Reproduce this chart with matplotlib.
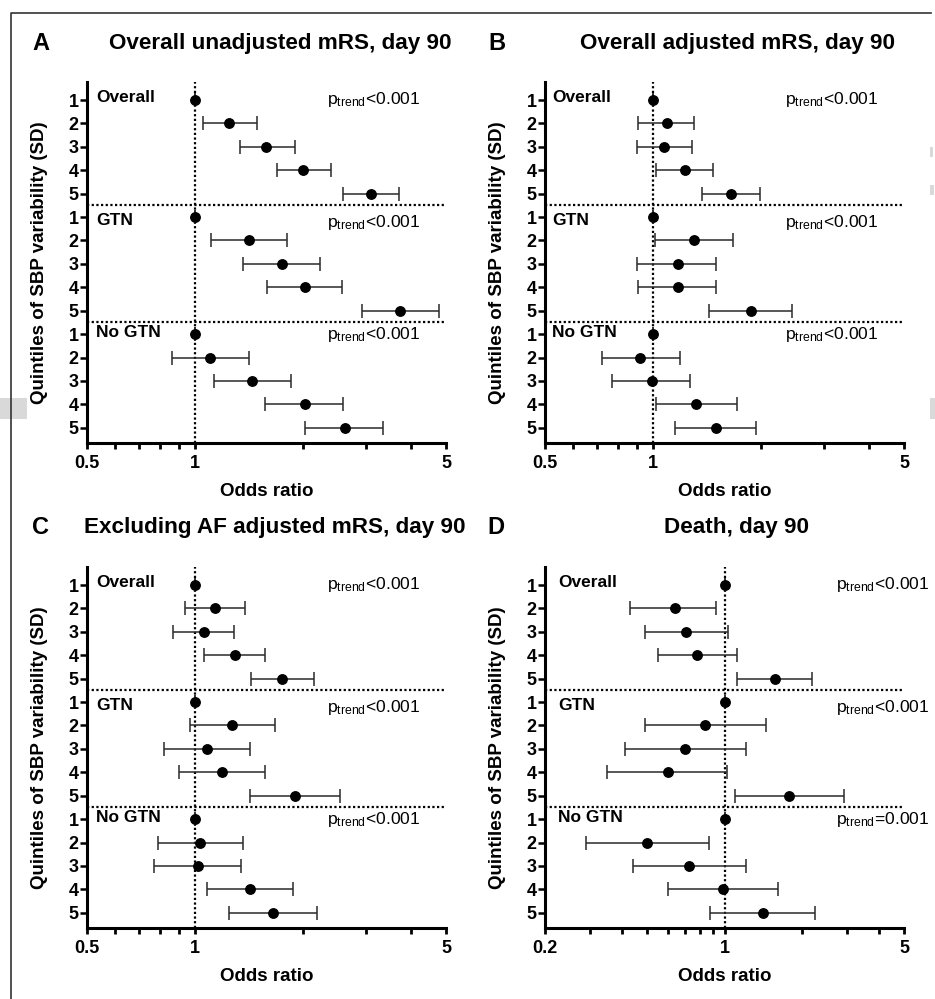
import matplotlib
matplotlib.use('Agg')
import matplotlib.pyplot as plt
import numpy as np
from matplotlib.patches import Rectangle
from matplotlib.lines import Line2D
from matplotlib.ticker import FixedLocator, NullFormatter, FixedFormatter
from matplotlib.transforms import blended_transform_factory

plt.rcParams['font.family'] = ['Liberation Sans', 'DejaVu Sans']
plt.rcParams['mathtext.fontset'] = 'custom'
plt.rcParams['mathtext.rm'] = 'Liberation Sans'
plt.rcParams['mathtext.it'] = 'Liberation Sans'
plt.rcParams['mathtext.default'] = 'regular'

# ---------------- data ----------------
groups = ['Overall', 'GTN', 'No GTN']
quintiles = ['1', '2', '3', '4', '5']

panel_letters = ['A', 'B', 'C', 'D']
panel_titles = ['Overall unadjusted mRS, day 90',
                'Overall adjusted mRS, day 90',
                'Excluding AF adjusted mRS, day 90',
                'Death, day 90']

# Panel A: overall unadjusted mRS
a_or = [1.00, 1.24, 1.58, 2.00, 3.09, 1.00, 1.41, 1.75, 2.02, 3.73, 1.00, 1.10, 1.44, 2.02, 2.61]
a_lo = [1.00, 1.05, 1.33, 1.69, 2.59, 1.00, 1.11, 1.36, 1.59, 2.91, 1.00, 0.86, 1.13, 1.57, 2.03]
a_hi = [1.00, 1.49, 1.90, 2.39, 3.69, 1.00, 1.80, 2.23, 2.57, 4.79, 1.00, 1.41, 1.85, 2.58, 3.33]
a_p = ['<0.001', '<0.001', '<0.001']

# Panel B: overall adjusted mRS
b_or = [1.00, 1.09, 1.07, 1.23, 1.65, 1.00, 1.30, 1.17, 1.17, 1.87, 1.00, 0.92, 0.99, 1.32, 1.50]
b_lo = [1.00, 0.91, 0.90, 1.02, 1.37, 1.00, 1.01, 0.90, 0.91, 1.43, 1.00, 0.72, 0.77, 1.02, 1.15]
b_hi = [1.00, 1.30, 1.28, 1.47, 1.99, 1.00, 1.67, 1.50, 1.50, 2.44, 1.00, 1.19, 1.27, 1.71, 1.94]
b_p = ['<0.001', '<0.001', '<0.001']

# Panel C: excluding AF adjusted mRS
c_or = [1.00, 1.14, 1.06, 1.29, 1.75, 1.00, 1.27, 1.08, 1.19, 1.90, 1.00, 1.03, 1.02, 1.42, 1.65]
c_lo = [1.00, 0.94, 0.87, 1.06, 1.43, 1.00, 0.97, 0.82, 0.90, 1.42, 1.00, 0.79, 0.77, 1.08, 1.24]
c_hi = [1.00, 1.38, 1.28, 1.57, 2.15, 1.00, 1.67, 1.42, 1.57, 2.54, 1.00, 1.36, 1.34, 1.88, 2.19]
c_p = ['<0.001', '<0.001', '<0.001']

# Panel D: death
d_or = [1.00, 0.64, 0.71, 0.78, 1.57, 1.00, 0.84, 0.70, 0.60, 1.79, 1.00, 0.50, 0.73, 0.99, 1.41]
d_lo = [1.00, 0.43, 0.49, 0.55, 1.12, 1.00, 0.49, 0.41, 0.35, 1.10, 1.00, 0.29, 0.44, 0.60, 0.88]
d_hi = [1.00, 0.93, 1.03, 1.12, 2.19, 1.00, 1.45, 1.21, 1.02, 2.91, 1.00, 0.87, 1.21, 1.61, 2.25]
d_p = ['<0.001', '<0.001', '=0.001']

x_limits = [(0.5, 5), (0.5, 5), (0.5, 5), (0.2, 5)]
x_major = [[0.5, 1, 5], [0.5, 1, 5], [0.5, 1, 5], [0.2, 1, 5]]
x_major_labels = [['0.5', '1', '5'], ['0.5', '1', '5'], ['0.5', '1', '5'], ['0.2', '1', '5']]
x_minor = [[0.6, 0.7, 0.8, 0.9, 2, 3, 4]] * 3 + [[0.3, 0.4, 0.5, 0.6, 0.7, 0.8, 0.9, 2, 3, 4]]

panels = [(a_or, a_lo, a_hi, a_p), (b_or, b_lo, b_hi, b_p),
          (c_or, c_lo, c_hi, c_p), (d_or, d_lo, d_hi, d_p)]

# ---------------- figure ----------------
W, H = 935, 999
fig = plt.figure(figsize=(W / 100, H / 100), dpi=100)

def fx(px):
    return px / W

def fy(py):
    return 1 - py / H

# axes rectangles in pixel coords: (left, top, right, bottom)
ax_px = [(87, 82, 446, 443), (545, 82, 904, 443),
         (87, 567, 446, 928), (545, 567, 904, 928)]
title_px = [(280, 44), (737, 44), (275, 528), (737, 528)]
letter_px = [(32, 44), (488, 44), (32, 528), (487, 528)]
p_xfrac = [0.668, 0.668, 0.668, 0.81]
grp_xfrac = [0.025, 0.02, 0.025, 0.036]
grp_offsets = [-0.12, 0.16, -0.08]

rows = np.arange(1, 16)
ticklabels = quintiles * 3

for i, (orv, lo, hi, pv) in enumerate(panels):
    l, t, r, b = ax_px[i]
    ax = fig.add_axes([fx(l), fy(b), fx(r) - fx(l), fy(t) - fy(b)])
    orv = np.array(orv); lo = np.array(lo); hi = np.array(hi)
    ax.set_xscale('log')
    ax.set_xlim(*x_limits[i])
    ax.set_ylim(15.65, 0.23)

    ax.axvline(1, color='black', lw=1.6, ls=(0, (1, 1.1)), zorder=1)
    for yb in (5.5, 10.5):
        ax.axhline(yb, color='black', lw=1.6, ls=(0, (1, 1.1)), zorder=1)

    ax.errorbar(orv, rows, xerr=[orv - lo, hi - orv], fmt='o', color='black',
                ecolor='#2a2a2a', elinewidth=1.1, capsize=5, capthick=1.1,
                markersize=6.8, zorder=3)

    ax.xaxis.set_major_locator(FixedLocator(x_major[i]))
    ax.xaxis.set_major_formatter(FixedFormatter(x_major_labels[i]))
    ax.xaxis.set_minor_locator(FixedLocator(x_minor[i]))
    ax.xaxis.set_minor_formatter(NullFormatter())
    ax.set_yticks(rows)
    ax.set_yticklabels(ticklabels)

    for s in ('top', 'right'):
        ax.spines[s].set_visible(False)
    for s in ('left', 'bottom'):
        ax.spines[s].set_linewidth(2.2)
    ax.tick_params(axis='x', which='both', direction='out', length=4.5, width=2.0,
                   labelsize=13, pad=4)
    ax.tick_params(axis='y', direction='out', length=5, width=1.8, labelsize=13, pad=1)
    for lab in ax.get_xticklabels() + ax.get_yticklabels():
        lab.set_fontweight('bold')

    ax.set_xlabel('Odds ratio', fontsize=13.5, fontweight='bold', va='top')
    ax.xaxis.set_label_coords(0.5, -0.112)
    ax.set_ylabel('Quintiles of SBP variability (SD)', fontsize=13.5, fontweight='bold')
    ax.yaxis.set_label_coords(-0.11, 0.5)

    tr = blended_transform_factory(ax.transAxes, ax.transData)
    for g in range(3):
        yrow = 1 + 5 * g + grp_offsets[g]
        ax.text(grp_xfrac[i], yrow, groups[g], transform=tr, fontsize=12.5,
                fontweight='bold', ha='left', va='center')
        ax.text(p_xfrac[i], yrow + 0.27, r'p$_{trend}$' + pv[g], transform=tr,
                fontsize=12.6, ha='left', va='baseline')

    tx, ty = title_px[i]
    fig.text(fx(tx), fy(ty), panel_titles[i], fontsize=16.2, fontweight='bold',
             ha='center', va='center')
    lx, ly = letter_px[i]
    fig.text(fx(lx), fy(ly), panel_letters[i], fontsize=17, fontweight='bold',
             ha='left', va='center')

# scan artifacts (light grey patches at the page edges)
for (x0, y0, w, h) in [(0, 398, 27, 21), (930, 398, 5, 21), (930, 147, 3, 10), (930, 185, 4, 10)]:
    fig.patches.append(Rectangle((fx(x0), fy(y0 + h)), w / W, h / H, transform=fig.transFigure,
                                 facecolor='#d9d9d9', edgecolor='none', zorder=0))

# outer frame (left and top edges)
fig.lines.append(Line2D([fx(10.5), fx(10.5), fx(931)], [0, fy(13), fy(13)],
                        transform=fig.transFigure, color='#333333', lw=1.2, zorder=5))

fig.savefig('out.png', dpi=100)
